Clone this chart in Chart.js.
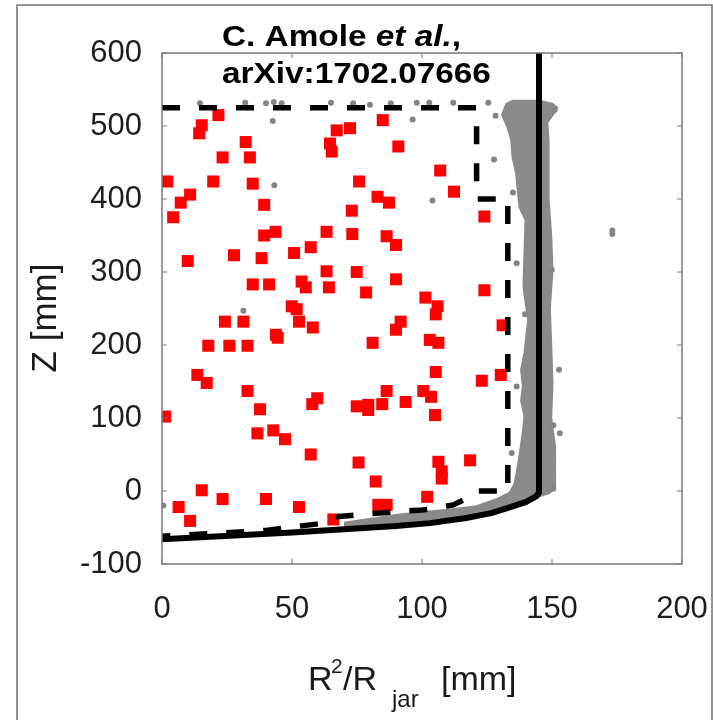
<!DOCTYPE html>
<html>
<head>
<meta charset="utf-8">
<script src="https://cdn.jsdelivr.net/npm/chart.js@4.4.1/dist/chart.umd.min.js"></script>
<style>
  html, body { margin: 0; padding: 0; background: #fff; }
  canvas { display: block; }
</style>
</head>
<body>
<canvas id="chart" width="713" height="720"></canvas>
<script>
// red squares (x = R^2/R_jar, y = Z)
const redX = [21.7, 15.3, 14.3, 2.0, 19.7, 23.3, 10.8, 7.2, 4.3, 32.2, 33.8, 34.9, 39.3, 39.3, 43.7,
  64.6, 65.3, 67.2, 72.3, 84.9, 90.9, 75.8, 82.9, 87.3, 73.0, 63.3, 73.2, 86.4, 90.0,
  9.9, 27.7, 38.3, 50.8, 57.2, 63.3, 74.9, 90.0, 34.9, 41.2, 53.7, 55.3, 64.2, 78.5, 101.3,
  49.9, 51.8, 52.7, 58.0, 24.2, 31.3, 43.8, 44.5, 91.8, 90.0, 17.8, 25.9, 32.9, 81.0, 103.0, 106.3,
  13.6, 17.2, 32.9, 37.7, 1.2, 57.8, 59.7, 74.9, 79.3, 79.3, 84.7, 86.4, 93.7, 100.5, 103.5,
  36.7, 42.8, 47.3, 57.2, 75.6, 82.2, 83.2, 86.4, 102.0, 15.3, 6.4, 10.8, 23.3, 40.0, 52.7, 65.9,
  105.0, 106.3, 107.6, 107.6, 118.5, 124.0, 124.0, 106.0, 105.3, 131.0, 105.3, 130.3, 123.0,
  107.0, 112.3];
const redY = [515, 501, 490, 424, 424, 457, 406, 395, 375, 478, 457, 421, 392, 350, 355,
  476, 465, 494, 497, 508, 472, 424, 403, 395, 384, 355, 352, 349, 337,
  315, 323, 319, 326, 334, 301, 300, 290, 283, 283, 287, 279, 279, 272, 265,
  253, 249, 232, 224, 232, 232, 214, 210, 232, 221, 199, 199, 199, 203, 207, 203,
  159, 148, 137, 112, 102, 119, 127, 116, 118, 111, 119, 137, 122, 137, 129,
  79, 83, 71, 50, 39, 13, -19, -19, -8, 1, -22, -41, -11, -11, -22, -39,
  104, 40, 27, 17, 42, 376, 275, 253, 242, 227, 163, 159, 151,
  439, 410];

// scattered grey events
const grayX = [14.6, 32, 40, 43, 46, 42.6, 65, 73.5, 80, 88, 98, 96.4, 102.8, 112, 125.5, 128.3,
  127.7, 104, 135, 151, 173.2, 173.2, 43.2, 31.3, 136.4, 139.6, 152.7, 136.4, 149.9, 153,
  150.5, 150.5, 134.5, 0.5];
const grayY = [531, 532, 531, 533, 531, 507, 532, 531, 529, 531, 532, 509, 532, 532, 532, 514,
  454, 398, 409, 522, 357, 352, 419, 247, 312, 242, 166, 143, 303, 79,
  90, 3, 52, -20];

// outline of the dense grey band near the wall
const bandX = [70, 91.5, 98, 110.8, 121, 128.7, 133.8, 135.8, 137, 138, 138.9, 139.6, 138.3, 139,
  138.3, 139.6, 141, 139.2, 139.6, 140, 137.7, 137, 136.4, 135, 134.5, 133, 131, 132.6, 135,
  145, 150, 151.8, 150, 148, 148.5, 148.5, 149.5, 150, 149, 149.5, 150, 149.5, 151, 151, 151,
  149, 144, 134, 117, 103, 90, 70];
const bandY = [-44, -33, -30.5, -26, -21.5, -12, -3, 10, 33, 56, 79, 102, 124, 143,
  166, 189, 234, 280, 326, 371, 389, 412, 435, 458, 481, 499, 515, 530, 534,
  534, 530, 525, 515, 505, 480, 400, 350, 303, 250, 200, 150, 100, 60, 20, 5,
  -2, -8, -22, -37, -44, -48, -52];

// solid black curve
const solidX = [0, 50, 90, 103, 117, 127, 134, 140, 142, 144, 145, 145, 145];
const solidY = [-66, -57, -48, -44, -37, -30, -22, -15, -11, -7, -2, 2, 600];

// dashed black boundary
const dashX = [0, 121, 121, 133, 133, 121, 118, 112, 105, 100, 80, 68, 60, 40, 20, 0];
const dashY = [525, 525, 400, 400, 0, 0, -9, -19, -24, -26, -31, -35, -45, -54, -58, -62];

const xTickValues = [0, 50, 100, 150, 200];
const yTickValues = [-100, 0, 100, 200, 300, 400, 500, 600];

const pts = (xs, ys) => xs.map((x, i) => ({ x: x, y: ys[i] }));
const FONT = "'Liberation Sans', Arial, sans-serif";

// frame, plot box, inward ticks and the texts
const decorations = {
  id: "decorations",
  beforeDraw(chart) {
    const ctx = chart.ctx;
    ctx.save();
    ctx.fillStyle = "#fff";
    ctx.fillRect(0, 0, chart.width, chart.height);
    ctx.strokeStyle = "#707070";
    ctx.lineWidth = 1.5;
    ctx.beginPath();
    ctx.moveTo(17, 720);
    ctx.lineTo(17, 5);
    ctx.lineTo(712, 5);
    ctx.lineTo(712, 720);
    ctx.stroke();
    ctx.restore();
  },
  afterDraw(chart) {
    const ctx = chart.ctx;
    const a = chart.chartArea;
    const xs = chart.scales.x, ys = chart.scales.y;
    ctx.save();
    ctx.strokeStyle = "#7a7a7a";
    ctx.lineWidth = 1.5;
    ctx.strokeRect(a.left, a.top, a.right - a.left, a.bottom - a.top);
    ctx.lineWidth = 1;
    ctx.beginPath();
    xTickValues.forEach(v => {
      const px = xs.getPixelForValue(v);
      ctx.moveTo(px, a.bottom); ctx.lineTo(px, a.bottom - 5);
      ctx.moveTo(px, a.top); ctx.lineTo(px, a.top + 5);
    });
    yTickValues.forEach(v => {
      const py = ys.getPixelForValue(v);
      ctx.moveTo(a.left, py); ctx.lineTo(a.left + 5, py);
      ctx.moveTo(a.right, py); ctx.lineTo(a.right - 5, py);
    });
    ctx.stroke();

    // title
    ctx.fillStyle = "#000";
    ctx.textBaseline = "alphabetic";
    ctx.textAlign = "left";
    ctx.save();
    ctx.translate(222, 46);
    ctx.scale(1.15, 1);
    let x = 0;
    ctx.font = "bold 29px " + FONT;
    ctx.fillText("C. Amole ", x, 0);
    x += ctx.measureText("C. Amole ").width;
    ctx.font = "italic bold 29px " + FONT;
    ctx.fillText("et al.", x, 0);
    x += ctx.measureText("et al.").width;
    ctx.font = "bold 29px " + FONT;
    ctx.fillText(",", x, 0);
    ctx.fillText("arXiv:1702.07666", 0, 37);
    ctx.restore();

    // y title
    ctx.fillStyle = "#1a1a1a";
    ctx.save();
    ctx.translate(46, 318);
    ctx.rotate(-Math.PI / 2);
    ctx.textAlign = "center";
    ctx.textBaseline = "middle";
    ctx.font = "35px " + FONT;
    ctx.fillText("Z [mm]", 0, 0);
    ctx.restore();

    // x title with super/subscript
    const big = "34px " + FONT;
    const base = 690;
    ctx.textAlign = "left";
    ctx.font = big;
    ctx.fillText("R", 308, base);
    ctx.font = "21px " + FONT;
    ctx.fillText("2", 331, base - 17);
    ctx.font = big;
    ctx.fillText("/R", 343, base);
    ctx.font = "24px " + FONT;
    ctx.fillText("jar", 392, base + 17);
    ctx.font = big;
    ctx.fillText("[mm]", 441, base);
    ctx.restore();
  }
};

new Chart(document.getElementById("chart"), {
  type: "scatter",
  data: {
    datasets: [
      {
        label: "dashed",
        data: pts(dashX, dashY),
        showLine: true,
        borderColor: "#000",
        borderWidth: 5.5,
        borderDash: [18, 19],
        pointRadius: 0,
        fill: false,
        order: 0
      },
      {
        label: "solid",
        data: pts(solidX, solidY),
        showLine: true,
        borderColor: "#000",
        borderWidth: 6,
        pointRadius: 0,
        fill: false,
        order: 1
      },
      {
        label: "red",
        data: pts(redX, redY),
        pointStyle: "rect",
        pointRadius: 8.5,
        pointBorderWidth: 0,
        backgroundColor: "#ff0000",
        borderColor: "#ff0000",
        order: 2
      },
      {
        label: "gray",
        data: pts(grayX, grayY),
        pointRadius: 3,
        pointBorderWidth: 0,
        backgroundColor: "#858585",
        borderColor: "#858585",
        order: 3
      },
      {
        label: "band",
        data: pts(bandX, bandY),
        showLine: true,
        borderColor: "#8a8a8a",
        borderWidth: 3,
        backgroundColor: "#8a8a8a",
        pointRadius: 0,
        fill: "shape",
        order: 4
      }
    ]
  },
  options: {
    responsive: false,
    animation: false,
    events: [],
    layout: { padding: { top: 53, right: 31, left: 0, bottom: 0 } },
    plugins: { legend: { display: false }, tooltip: { enabled: false } },
    scales: {
      x: {
        type: "linear",
        min: 0,
        max: 200,
        grid: { display: false },
        border: { display: false },
        ticks: {
          stepSize: 50,
          padding: 19,
          color: "#1e1e1e",
          font: { family: FONT, size: 31 }
        },
        afterFit: s => { s.height = 156; s.paddingLeft = 0; s.paddingRight = 0; }
      },
      y: {
        type: "linear",
        min: -100,
        max: 600,
        grid: { display: false },
        border: { display: false },
        ticks: {
          stepSize: 100,
          padding: 12,
          color: "#1e1e1e",
          font: { family: FONT, size: 31 }
        },
        afterFit: s => { s.width = 162; s.paddingTop = 0; s.paddingBottom = 0; }
      }
    }
  },
  plugins: [decorations]
});
</script>
</body>
</html>
